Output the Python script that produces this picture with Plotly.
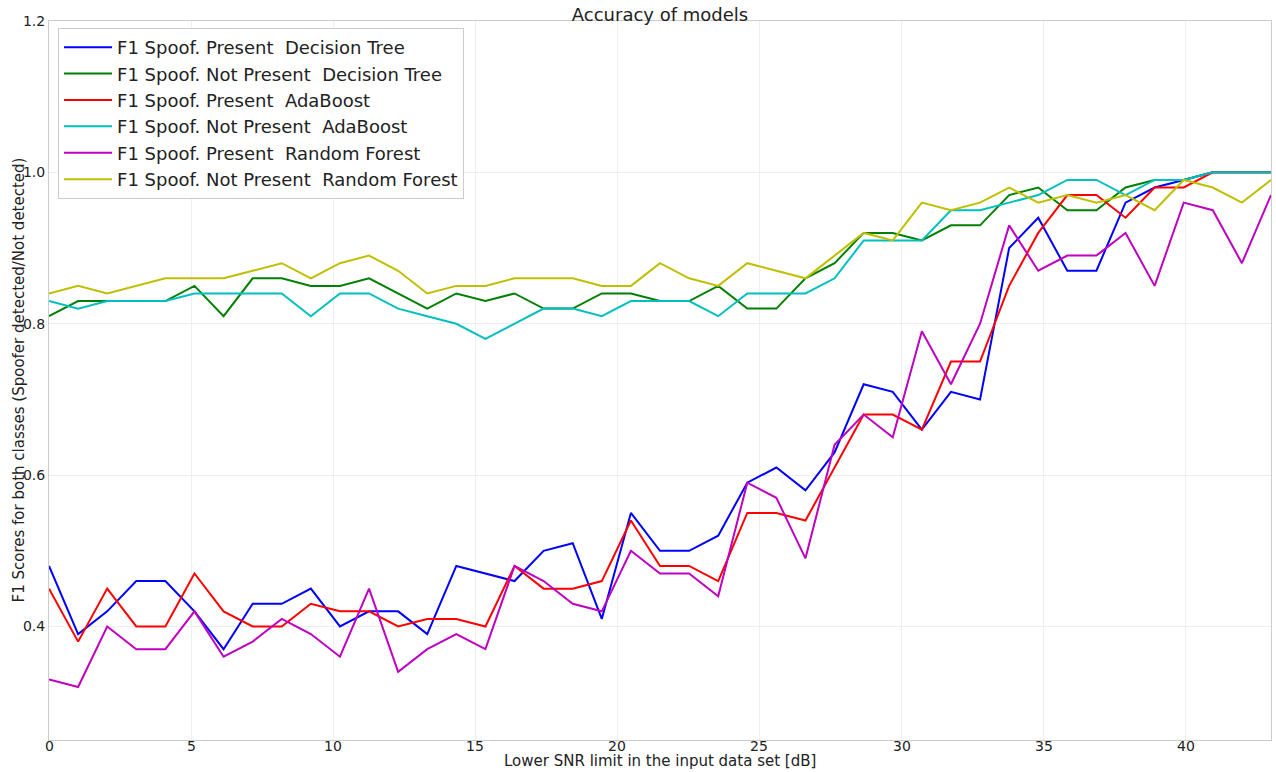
import plotly.graph_objects as go

snr_x = [0, 1.024, 2.048, 3.071, 4.095, 5.119, 6.143, 7.167, 8.190, 9.214,
         10.238, 11.262, 12.286, 13.310, 14.333, 15.357, 16.381, 17.405, 18.429, 19.452,
         20.476, 21.5, 22.524, 23.548, 24.571, 25.595, 26.619, 27.643, 28.667, 29.690,
         30.714, 31.738, 32.762, 33.786, 34.810, 35.833, 36.857, 37.881, 38.905, 39.929,
         40.952, 41.976, 43.0]

dt_present = [0.48, 0.39, 0.42, 0.46, 0.46, 0.42, 0.37, 0.43, 0.43, 0.45,
              0.40, 0.42, 0.42, 0.39, 0.48, 0.47, 0.46, 0.50, 0.51, 0.41,
              0.55, 0.50, 0.50, 0.52, 0.59, 0.61, 0.58, 0.63, 0.72, 0.71,
              0.66, 0.71, 0.70, 0.90, 0.94, 0.87, 0.87, 0.96, 0.98, 0.99,
              1.00, 1.00, 1.00]
dt_not_present = [0.81, 0.83, 0.83, 0.83, 0.83, 0.85, 0.81, 0.86, 0.86, 0.85,
                  0.85, 0.86, 0.84, 0.82, 0.84, 0.83, 0.84, 0.82, 0.82, 0.84,
                  0.84, 0.83, 0.83, 0.85, 0.82, 0.82, 0.86, 0.88, 0.92, 0.92,
                  0.91, 0.93, 0.93, 0.97, 0.98, 0.95, 0.95, 0.98, 0.99, 0.99,
                  1.00, 1.00, 1.00]
ada_present = [0.45, 0.38, 0.45, 0.40, 0.40, 0.47, 0.42, 0.40, 0.40, 0.43,
               0.42, 0.42, 0.40, 0.41, 0.41, 0.40, 0.48, 0.45, 0.45, 0.46,
               0.54, 0.48, 0.48, 0.46, 0.55, 0.55, 0.54, 0.61, 0.68, 0.68,
               0.66, 0.75, 0.75, 0.85, 0.92, 0.97, 0.97, 0.94, 0.98, 0.98,
               1.00, 1.00, 1.00]
ada_not_present = [0.83, 0.82, 0.83, 0.83, 0.83, 0.84, 0.84, 0.84, 0.84, 0.81,
                   0.84, 0.84, 0.82, 0.81, 0.80, 0.78, 0.80, 0.82, 0.82, 0.81,
                   0.83, 0.83, 0.83, 0.81, 0.84, 0.84, 0.84, 0.86, 0.91, 0.91,
                   0.91, 0.95, 0.95, 0.96, 0.97, 0.99, 0.99, 0.97, 0.99, 0.99,
                   1.00, 1.00, 1.00]
rf_present = [0.33, 0.32, 0.40, 0.37, 0.37, 0.42, 0.36, 0.38, 0.41, 0.39,
              0.36, 0.45, 0.34, 0.37, 0.39, 0.37, 0.48, 0.46, 0.43, 0.42,
              0.50, 0.47, 0.47, 0.44, 0.59, 0.57, 0.49, 0.64, 0.68, 0.65,
              0.79, 0.72, 0.80, 0.93, 0.87, 0.89, 0.89, 0.92, 0.85, 0.96,
              0.95, 0.88, 0.97]
rf_not_present = [0.84, 0.85, 0.84, 0.85, 0.86, 0.86, 0.86, 0.87, 0.88, 0.86,
                  0.88, 0.89, 0.87, 0.84, 0.85, 0.85, 0.86, 0.86, 0.86, 0.85,
                  0.85, 0.88, 0.86, 0.85, 0.88, 0.87, 0.86, 0.89, 0.92, 0.91,
                  0.96, 0.95, 0.96, 0.98, 0.96, 0.97, 0.96, 0.97, 0.95, 0.99,
                  0.98, 0.96, 0.99]

x_ticks = [0, 5, 10, 15, 20, 25, 30, 35, 40]
x_tick_labels = ["0", "5", "10", "15", "20", "25", "30", "35", "40"]
y_ticks = [0.4, 0.6, 0.8, 1.0, 1.2]
y_tick_labels = ["0.4", "0.6", "0.8", "1.0", "1.2"]

NB = "\u00a0"
series_names = [
    "F1 Spoof. Present " + NB + "Decision Tree",
    "F1 Spoof. Not Present " + NB + "Decision Tree",
    "F1 Spoof. Present " + NB + "AdaBoost",
    "F1 Spoof. Not Present " + NB + "AdaBoost",
    "F1 Spoof. Present " + NB + "Random Forest",
    "F1 Spoof. Not Present " + NB + "Random Forest",
]
series_values = [dt_present, dt_not_present, ada_present, ada_not_present,
                 rf_present, rf_not_present]
series_colors = ["#0000ff", "#008000", "#ff0000", "#00bfbf", "#bf00bf", "#bfbf00"]

FONT = "DejaVu Sans"
TXT = "#222222"

fig = go.Figure()
for name, vals, col in zip(series_names, series_values, series_colors):
    fig.add_trace(go.Scatter(x=snr_x, y=vals, mode="lines", name=name,
                             line=dict(color=col, width=2)))

# x tick labels placed just under the axis (as in the reference)
tick_annots = [dict(text=lab, xref="x", yref="paper", x=v, y=(740 - 746) / 719,
                    xanchor="center", yanchor="middle", showarrow=False,
                    font=dict(family=FONT, size=14, color=TXT))
               for v, lab in zip(x_ticks, x_tick_labels)]

fig.update_layout(
    width=1276, height=772,
    margin=dict(l=49, r=5, t=21, b=32),
    paper_bgcolor="white", plot_bgcolor="white",
    font=dict(family=FONT, size=14, color=TXT),
    title=dict(text="Accuracy of models", font=dict(family=FONT, size=18, color=TXT),
               x=0.5, xref="paper", xanchor="center",
               y=1 - 15 / 772, yref="container", yanchor="middle"),
    showlegend=True,
    legend=dict(x=0.0074, y=0.9903, xanchor="left", yanchor="top",
                bgcolor="white", bordercolor="#cccccc", borderwidth=1,
                itemwidth=48,
                font=dict(family=FONT, size=18, color=TXT)),
    xaxis=dict(range=[0, 43], tickmode="array", tickvals=x_ticks,
               showgrid=True, gridcolor="#efefef", gridwidth=1,
               showline=True, linecolor="#cccccc", linewidth=1, mirror=True,
               zeroline=False, ticks="", automargin=False, showticklabels=False),
    yaxis=dict(range=[0.25, 1.2], tickmode="array", tickvals=y_ticks,
               ticktext=y_tick_labels,
               showgrid=True, gridcolor="#efefef", gridwidth=1,
               showline=True, linecolor="#cccccc", linewidth=1, mirror=True,
               zeroline=False, ticks="", automargin=False,
               tickfont=dict(family=FONT, size=14, color=TXT)),
    annotations=tick_annots + [
        dict(text="Lower SNR limit in the input data set [dB]",
             xref="paper", yref="paper", x=0.5, y=(740 - 761) / 719,
             xanchor="center", yanchor="middle", showarrow=False,
             font=dict(family=FONT, size=15, color=TXT)),
        dict(text="F1 Scores for both classes (Spoofer detected/Not detected)",
             xref="paper", yref="paper", x=(18 - 49) / 1222, y=0.5,
             xanchor="center", yanchor="middle", textangle=-90, showarrow=False,
             font=dict(family=FONT, size=15, color=TXT)),
    ],
)

fig.write_html("out.html", config={"displayModeBar": False})
